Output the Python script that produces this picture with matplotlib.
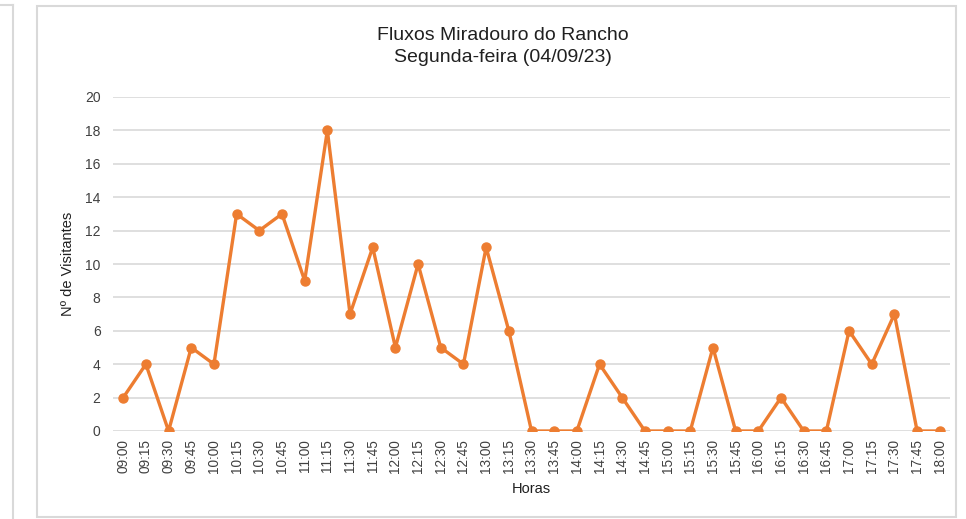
import matplotlib.pyplot as plt
from matplotlib.lines import Line2D
from matplotlib.patches import Rectangle

# Data
horas = ['09:00', '09:15', '09:30', '09:45', '10:00', '10:15', '10:30', '10:45',
         '11:00', '11:15', '11:30', '11:45', '12:00', '12:15', '12:30', '12:45',
         '13:00', '13:15', '13:30', '13:45', '14:00', '14:15', '14:30', '14:45',
         '15:00', '15:15', '15:30', '15:45', '16:00', '16:15', '16:30', '16:45',
         '17:00', '17:15', '17:30', '17:45', '18:00']
visitantes = [2, 4, 0, 5, 4, 13, 12, 13, 9, 18, 7, 11, 5, 10, 5, 4, 11, 6, 0, 0,
              0, 4, 2, 0, 0, 0, 5, 0, 0, 2, 0, 0, 6, 4, 7, 0, 0]
y_ticks = list(range(0, 21, 2))

plt.rcParams['font.family'] = ['Liberation Sans', 'DejaVu Sans']

W, H = 966, 519
fig = plt.figure(figsize=(W / 100, H / 100), dpi=100)
ax = fig.add_axes([113 / W, 1 - 431 / H, (950 - 113) / W, (431 - 97) / H])

x = range(len(horas))
ax.plot(x, visitantes, color='#ED7D31', linewidth=2.4, marker='o', markersize=6.5, zorder=3)

ax.set_xlim(-0.45, len(horas) - 1 + 0.45)
ax.set_ylim(0, 20)
ax.set_yticks(y_ticks)
ax.set_xticks(list(x))
ax.set_xticklabels(horas, rotation=90, fontsize=9.8, color='#404040')
ax.tick_params(axis='y', labelsize=10, labelcolor='#404040', pad=9)
ax.tick_params(axis='x', length=0, pad=6)
ax.tick_params(axis='y', length=0)
ax.grid(axis='y', color='#D9D9D9', linewidth=1.2, zorder=0)
ax.set_axisbelow(True)
for s in ax.spines.values():
    s.set_visible(False)

ax.set_ylabel('Nº de Visitantes', fontsize=10.5, color='#202020', labelpad=7)
ax.set_xlabel('Horas', fontsize=10.5, color='#202020', labelpad=6)

fig.text(503 / W, 1 - 35 / H, 'Fluxos Miradouro do Rancho', ha='center', va='center',
         fontsize=14, color='#202020')
fig.text(503 / W, 1 - 58 / H, 'Segunda-feira (04/09/23)', ha='center', va='center',
         fontsize=14, color='#202020')

# chart frame and the edge of the neighbouring panel
fig.add_artist(Rectangle((37 / W, 1 - 517 / H), (956 - 37) / W, (517 - 6) / H,
                         transform=fig.transFigure, fill=False, edgecolor='#D9D9D9', linewidth=1.5))
fig.add_artist(Line2D([13 / W, 13 / W], [0, 1 - 5 / H], transform=fig.transFigure,
                      color='#D9D9D9', linewidth=1.5))
fig.add_artist(Line2D([0, 13 / W], [1 - 5 / H, 1 - 5 / H], transform=fig.transFigure,
                      color='#D9D9D9', linewidth=1.5))

fig.savefig('out.png', dpi=100)
